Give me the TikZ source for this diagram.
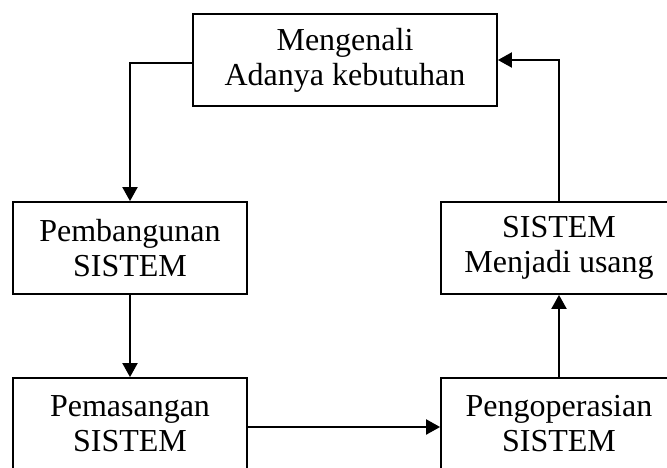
\documentclass[tikz,border=0pt]{standalone}
\usepackage{fontspec}
\setmainfont{Liberation Serif}
\usetikzlibrary{arrows.meta}
\begin{document}
\begin{tikzpicture}[x=1pt,y=-1pt,
  box/.style={draw, line width=1.8pt, minimum height=92pt, align=center, inner sep=0pt,
    font=\fontsize{32}{35}\selectfont},
  arr/.style={line width=2pt, -{Triangle[length=14pt,width=15pt]}}]
\useasboundingbox (0,0) rectangle (667,467);
\clip (0,0) rectangle (667,467);
\node[box, minimum width=304pt] (A) at (345,60) {Mengenali\\Adanya kebutuhan};
\node[box, minimum width=234pt] (B) at (130,248) {Pembangunan\\SISTEM};
\node[box, minimum width=236pt] (F) at (559,248) {SISTEM\\Menjadi usang};
\node[box, minimum width=234pt] (C) at (130,424) {Pemasangan\\SISTEM};
\node[box, minimum width=236pt] (D) at (559,424) {Pengoperasian\\SISTEM};
\draw[arr] ([yshift=-3pt]A.west) -| (B.north);
\draw[arr] (B.south) -- (C.north);
\draw[arr] ([yshift=-3pt]C.east) -- ([yshift=-3pt]D.west);
\draw[arr] (D.north) -- (F.south);
\draw[arr] (F.north) |- (A.east);
\end{tikzpicture}
\end{document}
